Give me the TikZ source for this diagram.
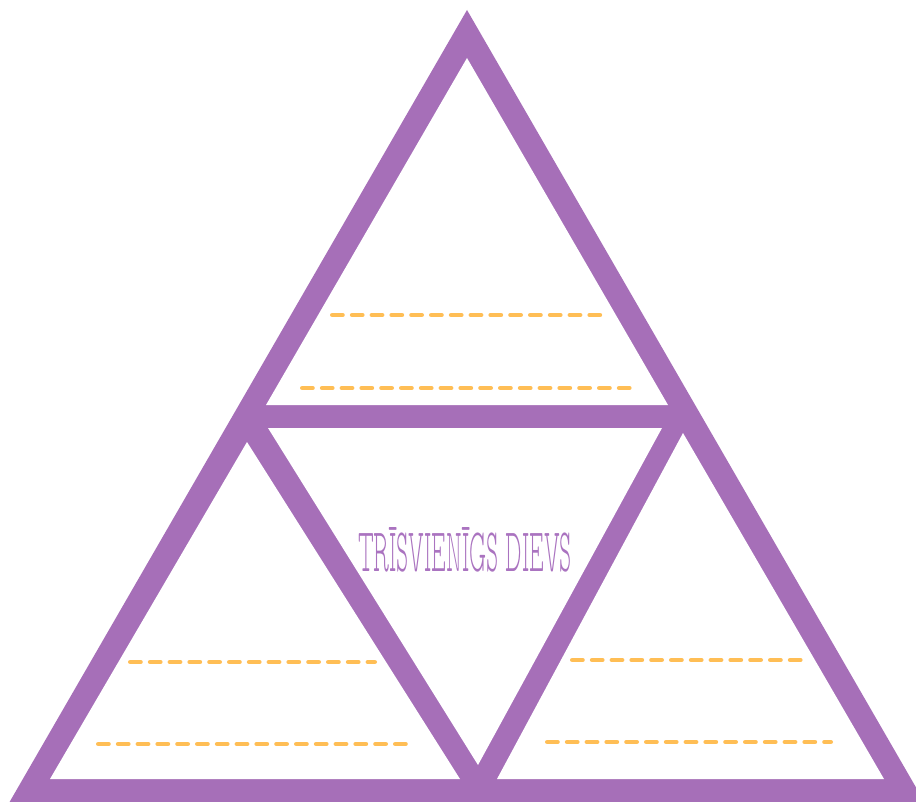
\documentclass[tikz,border=0pt]{standalone}
\usepackage{fontspec}
\newfontfamily\thinfont{lmmonoproplt10-regular.otf}
\definecolor{tripurple}{RGB}{166,111,184}
\definecolor{txtpurple}{RGB}{170,115,192}
\definecolor{dashorange}{RGB}{255,190,85}
\begin{document}
\begin{tikzpicture}[x=1pt,y=-1pt,
  dashline/.style={line width=4.5pt, draw=dashorange, line cap=round, dash pattern=on 10.3pt off 9.5pt},
  hole/.style={fill=white}]
\useasboundingbox (0,0) rectangle (916,802);
\fill[white] (0,0) rectangle (916,802);
\begin{scope}
\clip (0,0) rectangle (916,802);
% outer purple triangle
\fill[tripurple] (467,10) -- (9,803) -- (925,803) -- cycle;
% white holes
\fill[hole] (467,58) -- (266,405) -- (668,405) -- cycle;
\fill[hole] (268,428) -- (662,428) -- (478,765) -- cycle;
\fill[hole] (247,442) -- (50,779) -- (460,779) -- cycle;
\fill[hole] (683,433) -- (497,779) -- (884,779) -- cycle;
\end{scope}
% dashed writing lines
\draw[dashline] (332.25,315) -- (600.75,315);
\draw[dashline] (302.25,388) -- (630.75,388);
\draw[dashline] (130.25,662) -- (374.75,662);
\draw[dashline] (98.25,744) -- (405.75,744);
\draw[dashline] (572.25,660) -- (800.75,660);
\draw[dashline] (547.25,742) -- (830.75,742);
% title
\node[inner sep=0pt, text=txtpurple] (title) at (465,550)
  {\resizebox{214pt}{44pt}{\thinfont TRĪSVIENĪGS DIEVS}};
\end{tikzpicture}
\end{document}
